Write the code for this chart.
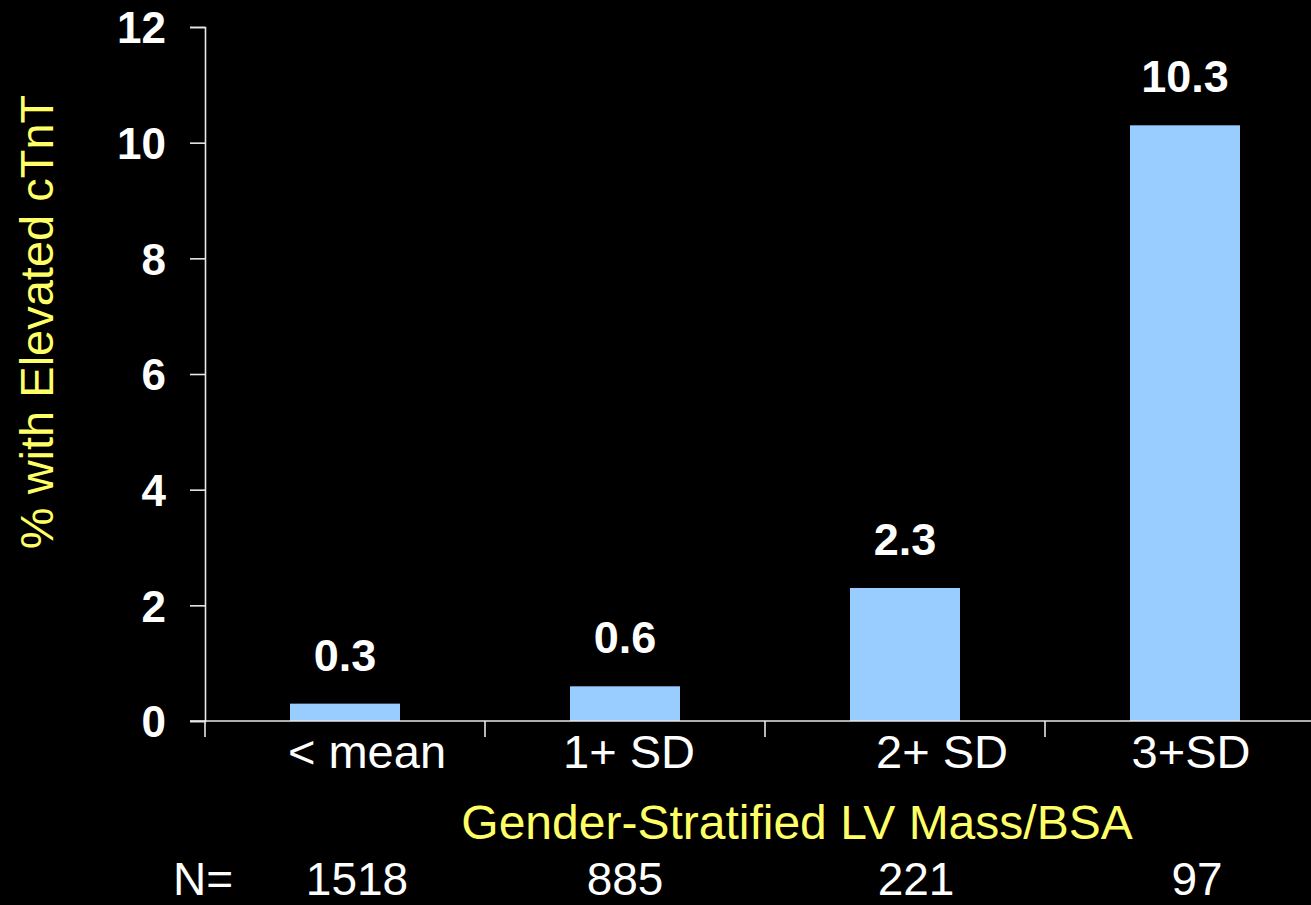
<!DOCTYPE html>
<html>
<head>
<meta charset="utf-8">
<script src="https://cdn.jsdelivr.net/npm/d3@7"></script>
<style>
  html, body { margin: 0; padding: 0; background: #000; }
  text { font-family: 'Liberation Sans', Arial, sans-serif; }
</style>
</head>
<body>
<div id="chart"></div>
<script>
const categories = ['< mean', '1+ SD', '2+ SD', '3+SD']
const percents = [0.3, 0.6, 2.3, 10.3]
const counts = ['1518', '885', '221', '97']
const yTicks = [0, 2, 4, 6, 8, 10, 12]

// small nudges so the category labels sit where the slide had them
const labelNudge = [22, 4, 37, 6]
const countNudge = [12, 0, 11, 12]

const W = 1311
const H = 905
const margin = { top: 27, left: 205, bottom: 184 }

const svg = d3
  .select('#chart')
  .append('svg')
  .attr('width', W)
  .attr('height', H)
  .style('background', '#000')

const x = d3
  .scaleBand()
  .domain(categories)
  .range([margin.left, margin.left + 280 * categories.length])
  .paddingInner(170 / 280)
  .paddingOuter(85 / 280)

const y = d3
  .scaleLinear()
  .domain([0, 12])
  .range([H - margin.bottom, margin.top])

const axisColor = '#e8e8e8'

// y axis
const yAxis = d3
  .axisLeft(y)
  .tickValues(yTicks)
  .tickSize(15)
  .tickSizeOuter(15)
  .tickPadding(24)

const yg = svg
  .append('g')
  .attr('transform', 'translate(' + margin.left + ',0)')
  .call(yAxis)
yg.selectAll('path, line').attr('stroke', axisColor).attr('stroke-width', 1.6)
yg.selectAll('text')
  .attr('fill', '#fff')
  .attr('font-size', 44)
  .attr('font-weight', 'bold')
  .attr('font-family', "'Liberation Sans', Arial, sans-serif")
  .attr('dy', '0.36em')

// bars
svg
  .selectAll('.bar')
  .data(percents)
  .enter()
  .append('rect')
  .attr('class', 'bar')
  .attr('x', (d, i) => x(categories[i]))
  .attr('width', x.bandwidth())
  .attr('y', d => y(d))
  .attr('height', d => y(0) - y(d))
  .attr('fill', '#99ccff')

// value labels
svg
  .selectAll('.val')
  .data(percents)
  .enter()
  .append('text')
  .attr('class', 'val')
  .attr('x', (d, i) => x(categories[i]) + x.bandwidth() / 2)
  .attr('y', d => y(d) - 33)
  .attr('text-anchor', 'middle')
  .attr('fill', '#fff')
  .attr('font-size', 45)
  .attr('font-weight', 'bold')
  .text(d => d)

// x axis: baseline plus ticks at band edges
const y0 = y(0)
svg
  .append('line')
  .attr('x1', margin.left - 15)
  .attr('x2', W)
  .attr('y1', y0)
  .attr('y2', y0)
  .attr('stroke', axisColor)
  .attr('stroke-width', 1.6)

svg
  .selectAll('.xtick')
  .data(categories)
  .enter()
  .append('line')
  .attr('class', 'xtick')
  .attr('x1', d => x(d) - x.step() * x.paddingOuter())
  .attr('x2', d => x(d) - x.step() * x.paddingOuter())
  .attr('y1', y0)
  .attr('y2', y0 + 16)
  .attr('stroke', axisColor)
  .attr('stroke-width', 1.6)

svg
  .selectAll('.cat')
  .data(categories)
  .enter()
  .append('text')
  .attr('class', 'cat')
  .attr('x', (d, i) => x(d) + x.bandwidth() / 2 + labelNudge[i])
  .attr('y', y0 + 47)
  .attr('text-anchor', 'middle')
  .attr('fill', '#fff')
  .attr('font-size', 47)
  .text(d => d)

// axis titles
svg
  .append('text')
  .attr('x', 797)
  .attr('y', 839)
  .attr('text-anchor', 'middle')
  .attr('fill', '#ffff66')
  .attr('font-size', 48)
  .text('Gender-Stratified LV Mass/BSA')

svg
  .append('text')
  .attr('transform', 'translate(53,' + y(6.9) + ') rotate(-90)')
  .attr('text-anchor', 'middle')
  .attr('fill', '#ffff66')
  .attr('font-size', 47)
  .text('% with Elevated cTnT')

// N row
const nY = 895
svg
  .append('text')
  .attr('x', 173)
  .attr('y', nY)
  .attr('fill', '#fff')
  .attr('font-size', 46)
  .text('N=')

svg
  .selectAll('.count')
  .data(counts)
  .enter()
  .append('text')
  .attr('class', 'count')
  .attr('x', (d, i) => x(categories[i]) + x.bandwidth() / 2 + countNudge[i])
  .attr('y', nY)
  .attr('text-anchor', 'middle')
  .attr('fill', '#fff')
  .attr('font-size', 46)
  .text(d => d)
</script>
</body>
</html>
